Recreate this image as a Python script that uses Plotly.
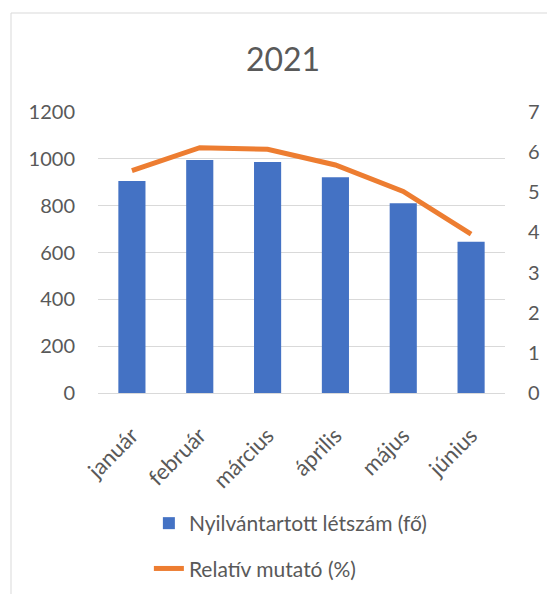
import plotly.graph_objects as go

months = ["január", "február", "március", "április", "május", "június"]
headcount = [905, 995, 986, 921, 810, 646]
relative = [5.54, 6.11, 6.07, 5.68, 5.02, 3.96]
left_ticks = [0, 200, 400, 600, 800, 1000, 1200]
right_ticks = [0, 1, 2, 3, 4, 5, 6, 7]

FONT = "Lato"
GRAY = "#595959"

fig = go.Figure()
fig.add_trace(go.Bar(
    x=months, y=headcount, name="Nyilvántartott létszám (fő)",
    marker=dict(color="#4472C4", line=dict(width=0)), yaxis="y",
    legendgroup="a",
))
fig.add_trace(go.Scatter(
    x=months, y=relative, name="Relatív mutató (%)", mode="lines",
    line=dict(color="#ED7D31", width=5), yaxis="y2",
    legendgroup="b",
))

fig.update_layout(
    width=547, height=594,
    margin=dict(l=98, r=42, t=112, b=201),
    paper_bgcolor="white", plot_bgcolor="white",
    font=dict(family=FONT, color=GRAY, size=20),
    title=dict(text="2021", x=283 / 547, xref="container", y=1 - 60 / 594,
               yref="container", xanchor="center", yanchor="middle",
               font=dict(size=32, color=GRAY, family=FONT)),
    bargap=0.6,
    showlegend=True,
    legend=dict(orientation="v", x=0.125, xanchor="left",
                y=1 - 503 / 594, yref="container", yanchor="top",
                font=dict(size=21, color=GRAY, family=FONT),
                tracegroupgap=15, itemwidth=30),
    xaxis=dict(type="category", tickangle=-45, showgrid=False,
               showline=True, linecolor="#D9D9D9", linewidth=1,
               ticks="", ticklabelstandoff=20, automargin=False,
               tickfont=dict(size=22, color=GRAY)),
    yaxis=dict(range=[0, 1200], tickvals=left_ticks, showgrid=True,
               gridcolor="#D9D9D9", gridwidth=1, zeroline=False,
               showline=False, ticks="", ticklabelstandoff=22, automargin=False,
               tickfont=dict(size=20, color=GRAY)),
    yaxis2=dict(range=[0, 7], tickvals=right_ticks, overlaying="y",
                side="right", showgrid=False, zeroline=False, showline=False,
                ticks="", ticklabelstandoff=22, automargin=False,
                tickfont=dict(size=20, color=GRAY)),
    shapes=[dict(type="rect", xref="paper", yref="paper",
                 x0=(11 - 98) / 407, x1=(560 - 98) / 407,
                 y0=(393 - 620) / 281, y1=(393 - 13) / 281,
                 line=dict(color="#D9D9D9", width=1), fillcolor="rgba(0,0,0,0)",
                 layer="below")],
)

fig.write_html("out.html", config={"displayModeBar": False},
               post_script="document.body.style.margin='0';document.body.style.overflow='hidden';")
